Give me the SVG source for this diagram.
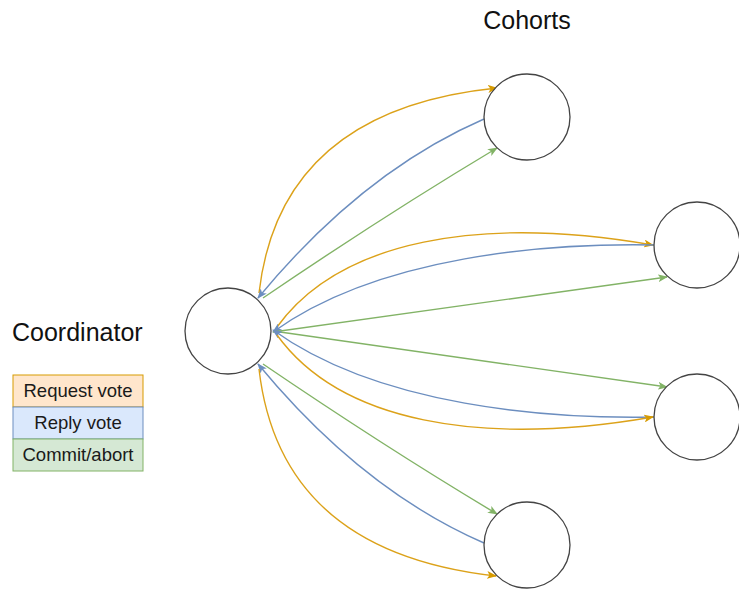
<svg xmlns="http://www.w3.org/2000/svg" width="739" height="589" viewBox="0 0 739 589">
  <style>
    .node { fill: #ffffff; stroke: #444444; stroke-width: 1.3; }
    .edge { fill: none; stroke-width: 1.4; }
    .req { stroke: #dca21a; marker-end: url(#arrow-req); }
    .rep { stroke: #6c8ebf; marker-end: url(#arrow-rep); }
    .com { stroke: #82b366; marker-end: url(#arrow-com); }
    .title { font-family: "Liberation Sans", Arial, sans-serif; font-size: 25px; fill: #111111; }
    .legend-text { font-family: "Liberation Sans", Arial, sans-serif; font-size: 18.5px; fill: #1a1a1a; text-anchor: middle; }
  </style>
  <defs>
    <marker id="arrow-req" viewBox="0 0 10 8" refX="9" refY="4" markerWidth="10" markerHeight="8" markerUnits="userSpaceOnUse" orient="auto">
      <path d="M0,0 L10,4 L0,8 L2.5,4 z" fill="#d79b00"/>
    </marker>
    <marker id="arrow-rep" viewBox="0 0 10 8" refX="9" refY="4" markerWidth="10" markerHeight="8" markerUnits="userSpaceOnUse" orient="auto">
      <path d="M0,0 L10,4 L0,8 L2.5,4 z" fill="#6c8ebf"/>
    </marker>
    <marker id="arrow-com" viewBox="0 0 10 8" refX="9" refY="4" markerWidth="10" markerHeight="8" markerUnits="userSpaceOnUse" orient="auto">
      <path d="M0,0 L10,4 L0,8 L2.5,4 z" fill="#82b366"/>
    </marker>
  </defs>

  <rect width="739" height="589" fill="#ffffff"/>

  <!-- labels -->
  <text class="title" x="527" y="29" text-anchor="middle">Cohorts</text>
  <text class="title" x="12" y="341">Coordinator</text>

  <!-- connectors -->
  <g id="connectors">
    <!-- top cohort -->
    <path class="edge req" d="M259,293 Q280,110 497,88"/>
    <path class="edge rep" d="M484,119 Q362,172 258,298"/>
    <path class="edge com" d="M263,298 Q385,215 497,148"/>
    <!-- upper right cohort -->
    <path class="edge req" d="M277,327 C340,240 480,215 653,245"/>
    <path class="edge rep" d="M655,245 C550,243 380,255 273,332"/>
    <path class="edge com" d="M273,332 L667,277"/>
    <!-- lower right cohort -->
    <path class="edge com" d="M273,331 L667,387"/>
    <path class="edge rep" d="M655,417 C550,419 380,407 273,330"/>
    <path class="edge req" d="M277,335 C340,422 480,447 653,417"/>
    <!-- bottom cohort -->
    <path class="edge com" d="M263,364 Q385,447 497,514"/>
    <path class="edge rep" d="M484,543 Q362,490 258,364"/>
    <path class="edge req" d="M259,369 Q280,552 496,576"/>
  </g>

  <!-- nodes -->
  <g id="coordinator"><circle class="node" cx="228" cy="331" r="43"/></g>
  <g id="cohort-1"><circle class="node" cx="527" cy="117" r="43"/></g>
  <g id="cohort-2"><circle class="node" cx="697" cy="245" r="43"/></g>
  <g id="cohort-3"><circle class="node" cx="697" cy="417" r="43"/></g>
  <g id="cohort-4"><circle class="node" cx="527" cy="545" r="43"/></g>

  <!-- legend -->
  <g id="legend">
    <rect x="13" y="375" width="130" height="32" fill="#ffe6cc" stroke="#d79b00" stroke-width="1"/>
    <text class="legend-text" x="78" y="397">Request vote</text>
    <rect x="13" y="407" width="130" height="32" fill="#dae8fc" stroke="#6c8ebf" stroke-width="1"/>
    <text class="legend-text" x="78" y="429">Reply vote</text>
    <rect x="13" y="439" width="130" height="32" fill="#d5e8d4" stroke="#82b366" stroke-width="1"/>
    <text class="legend-text" x="78" y="461">Commit/abort</text>
  </g>
</svg>
